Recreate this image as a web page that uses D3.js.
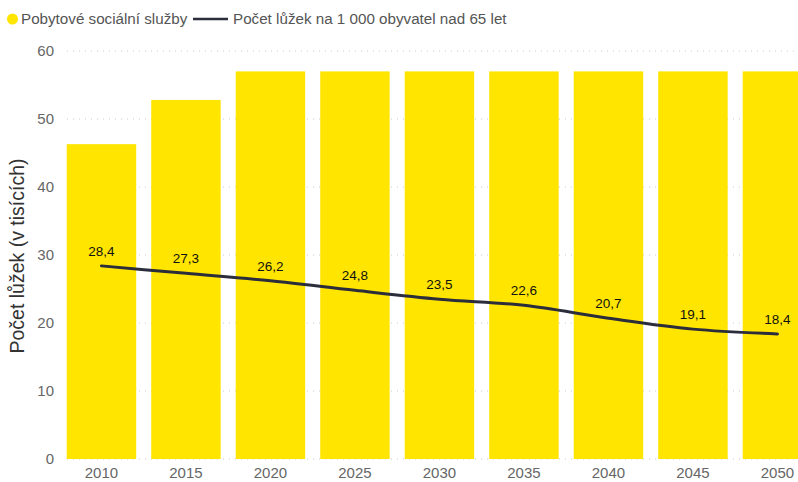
<!DOCTYPE html>
<html>
<head>
<meta charset="utf-8">
<script src="https://cdn.jsdelivr.net/npm/d3@7"></script>
<style>
  body { margin: 0; background: #fff; }
  svg { display: block; font-family: "Liberation Sans", Arial, sans-serif; }
</style>
</head>
<body>
<svg id="chart" width="798" height="482"></svg>
<script>
// data
const years = ["2010", "2015", "2020", "2025", "2030", "2035", "2040", "2045", "2050"];
const services = [46.3, 52.8, 57, 57, 57, 57, 57, 57, 57];   // Pobytové sociální služby
const beds = [28.4, 27.3, 26.2, 24.8, 23.5, 22.6, 20.7, 19.1, 18.4]; // Počet lůžek na 1 000 obyvatel nad 65 let
const yTicks = [0, 10, 20, 30, 40, 50, 60];

const barName = "Pobytové sociální služby";
const lineName = "Počet lůžek na 1 000 obyvatel nad 65 let";
const yTitle = "Počet lůžek (v tisících)";

const yellow = "#ffe500";
const navy = "#2b2d3b";

let svg = d3.select("#chart");

let x = d3.scaleBand()
    .domain(years)
    .range([59.2, 819.7])
    .paddingInner(0.178)
    .paddingOuter(0.089);

let y = d3.scaleLinear()
    .domain([0, 60])
    .range([459, 51]);

// dotted gridlines
svg.append("g")
    .selectAll("line")
    .data(yTicks)
    .join("line")
    .attr("x1", 67)
    .attr("x2", 800)
    .attr("y1", d => y(d))
    .attr("y2", d => y(d))
    .attr("stroke", "#c8c8c8")
    .attr("stroke-width", 1)
    .attr("stroke-dasharray", "1,5");

// y axis labels
let yAxis = svg.append("g")
    .attr("transform", "translate(54,0)")
    .call(d3.axisLeft(y).tickValues(yTicks).tickSize(0).tickPadding(0));
yAxis.select(".domain").remove();
yAxis.selectAll("text")
    .attr("fill", "#666")
    .style("font-size", "15px")
    .style("font-family", "Liberation Sans, Arial, sans-serif");

// bars
svg.append("g")
    .selectAll("rect")
    .data(years)
    .join("rect")
    .attr("x", d => x(d))
    .attr("width", x.bandwidth())
    .attr("y", (d, i) => y(services[i]))
    .attr("height", (d, i) => y(0) - y(services[i]))
    .attr("fill", yellow);

// x axis labels
let xAxis = svg.append("g")
    .attr("transform", `translate(0,${y(0)})`)
    .call(d3.axisBottom(x).tickSize(0).tickPadding(8));
xAxis.select(".domain").remove();
xAxis.selectAll("text")
    .attr("fill", "#666")
    .style("font-size", "15px")
    .style("font-family", "Liberation Sans, Arial, sans-serif");

// line
let line = d3.line()
    .x((d, i) => x(years[i]) + x.bandwidth() / 2)
    .y(d => y(d))
    .curve(d3.curveMonotoneX);

svg.append("path")
    .datum(beds)
    .attr("d", line)
    .attr("fill", "none")
    .attr("stroke", navy)
    .attr("stroke-width", 3)
    .attr("stroke-linecap", "round");

// line labels
svg.append("g")
    .selectAll("text")
    .data(beds)
    .join("text")
    .attr("x", (d, i) => x(years[i]) + x.bandwidth() / 2)
    .attr("y", d => y(d) - 10)
    .attr("text-anchor", "middle")
    .attr("fill", "#111")
    .style("font-size", "13.5px")
    .text(d => d.toFixed(1).replace(".", ","));

// y axis title
svg.append("text")
    .attr("transform", "translate(24,256) rotate(-90)")
    .attr("text-anchor", "middle")
    .attr("fill", "#333")
    .style("font-size", "19.5px")
    .text(yTitle);

// legend
let legend = svg.append("g");
legend.append("circle")
    .attr("cx", 12.5)
    .attr("cy", 19)
    .attr("r", 5.5)
    .attr("fill", yellow);
legend.append("text")
    .attr("x", 21)
    .attr("y", 24)
    .attr("fill", "#555")
    .style("font-size", "15.2px")
    .text(barName);
legend.append("line")
    .attr("x1", 193)
    .attr("x2", 228)
    .attr("y1", 19)
    .attr("y2", 19)
    .attr("stroke", navy)
    .attr("stroke-width", 2.5);
legend.append("text")
    .attr("x", 233)
    .attr("y", 24)
    .attr("fill", "#555")
    .style("font-size", "15.2px")
    .text(lineName);
</script>
</body>
</html>
